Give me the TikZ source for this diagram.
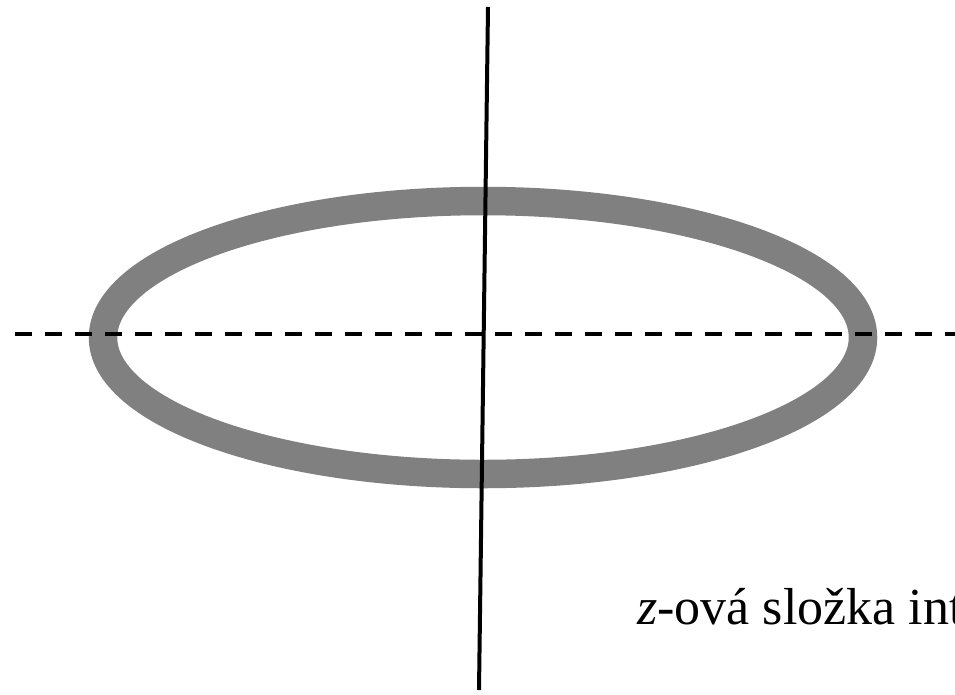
\documentclass[tikz,border=0pt]{standalone}
\usepackage{fontspec}
\setmainfont{Liberation Serif}
\begin{document}
\begin{tikzpicture}[x=1pt,y=-1pt,
  ringline/.style={draw=gray,line width=28.5pt},
  axisline/.style={draw=black,line width=4pt},
  dashaxis/.style={draw=black,line width=4pt,dash pattern=on 17pt off 13pt},
  labeltext/.style={font=\fontsize{52}{62}\selectfont,inner sep=0pt,anchor=base west}]
\useasboundingbox (0,0) rectangle (955,694);
\clip (0,0) rectangle (955,694);
\coordinate (c) at (483,337.5);
\draw[ringline] (c) ellipse [x radius=380, y radius=136.5];
\coordinate (dl) at (15,334);
\coordinate (dr) at (975,334);
\draw[dashaxis] (dl) -- (dr);
\coordinate (vt) at (488,7);
\coordinate (vb) at (479,690);
\draw[axisline] (vt) -- (vb);
\node[labeltext] (lbl) at (637,624) {\textit{z}-ová složka int};
\end{tikzpicture}
\end{document}
